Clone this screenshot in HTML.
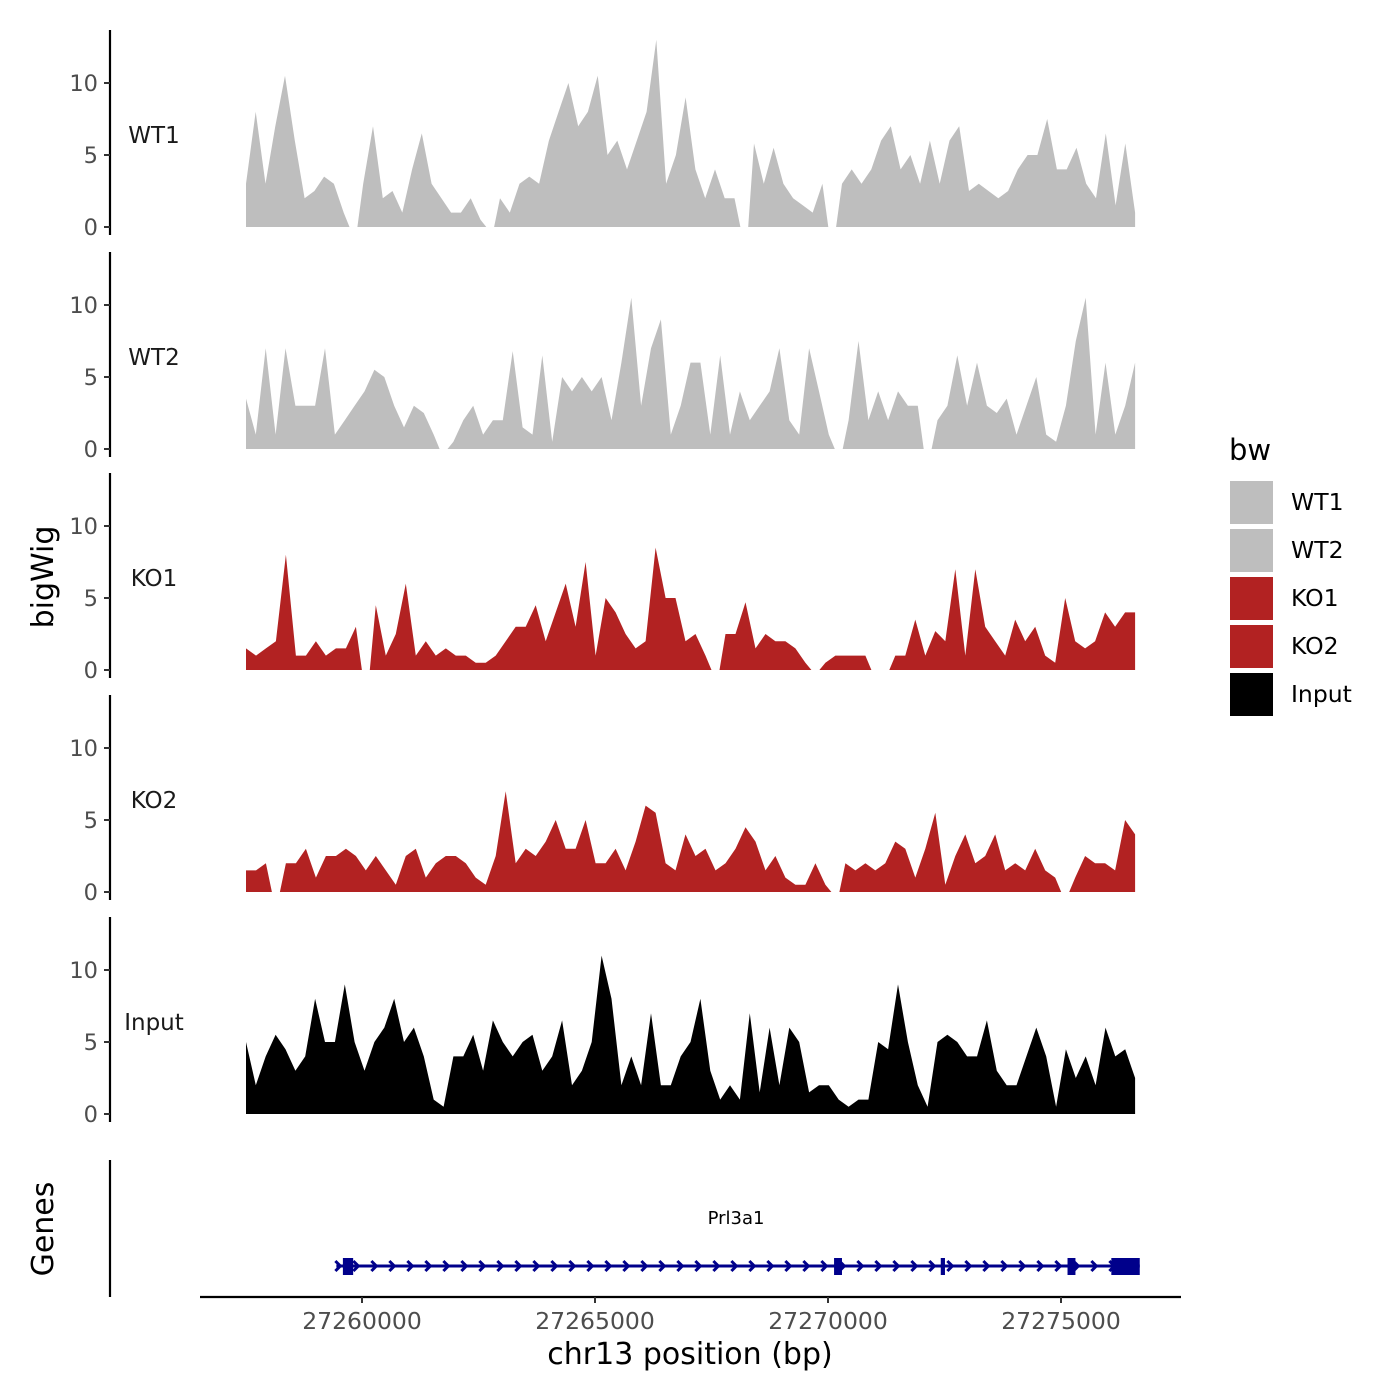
<!DOCTYPE html>
<html><head><meta charset="utf-8"><style>
html,body{margin:0;padding:0;background:#fff}
svg{display:block;font-family:"DejaVu Sans","Liberation Sans",sans-serif}
</style></head><body>
<svg id="chart" width="1400" height="1400" viewBox="0 0 1400 1400" xmlns="http://www.w3.org/2000/svg">
</svg>
<script>
const trackNames = ["WT1","WT2","KO1","KO2","Input"];
const trackColors = ["#bebebe","#bebebe","#b22222","#b22222","#000000"];
const yTicks = [0,5,10];
const xTicks = [27260000,27265000,27270000,27275000];
const startBp = 27257510, endBp = 27276590;
const wt1 = [3,8,3,7,10.5,6,2,2.5,3.5,3,1,null,3,7,2,2.5,1,4,6.5,3,2,1,1,2,0.5,null,2,1,3,3.5,3,6,8,10,7,8,10.5,5,6,4,6,8,13,3,5,9,4,2,4,2,2,null,5.8,3,5.5,3,2,1.5,1,3,null,3,4,3,4,6,7,4,5,3,6,3,6,7,2.5,3,2.5,2,2.5,4,5,5,7.5,4,4,5.5,3,2,6.5,1.5,5.8,1];
const wt2 = [3.5,1,7,1,7,3,3,3,7,1,2,3,4,5.5,5,3,1.5,3,2.5,1,null,0.5,2,3,1,2,2,6.8,1.5,1,6.5,0.5,5,4,5,4,5,2,6,10.5,3,7,9,1,3,6,6,1,6.5,1,4,2,3,4,7,2,1,7,4,1,null,2,7.5,2,4,2,4,3,3,null,2,3,6.5,3,6,3,2.5,3.5,1,3,5,1,0.5,3,7.5,10.5,1,6,1,3,6];
const ko1 = [1.5,1,1.5,2,8,1,1,2,1,1.5,1.5,3,null,4.5,1,2.5,6,1,2,1,1.5,1,1,0.5,0.5,1,2,3,3,4.5,2,4,6,3,7.5,1,5,4,2.5,1.5,2,8.5,5,5,2,2.5,1,null,2.5,2.5,4.7,1.5,2.5,2,2,1.5,0.5,null,0.5,1,1,1,1,null,null,1,1,3.5,1,2.7,2,7,1,7,3,2,1,3.5,2,3,1,0.5,5,2,1.5,2,4,3,4,4];
const ko2 = [1.5,1.5,2,null,2,2,3,1,2.5,2.5,3,2.5,1.5,2.5,1.5,0.5,2.5,3,1,2,2.5,2.5,2,1,0.5,2.5,7,2,3,2.5,3.5,5,3,3,5,2,2,3,1.5,3.5,6,5.5,2,1.5,4,2.5,3,1.5,2,3,4.5,3.5,1.5,2.5,1,0.5,0.5,2,0.5,null,2,1.5,2,1.5,2,3.5,3,1,3,5.5,0.5,2.5,4,2,2.5,4,1.5,2,1.5,3,1.5,1,null,1,2.5,2,2,1.5,5,4];
const input = [5,2,4,5.5,4.5,3,4,8,5,5,9,5,3,5,6,8,5,6,4,1,0.5,4,4,5.5,3,6.5,5,4,5,5.5,3,4,6.5,2,3,5,11,8,2,4,2,7,2,2,4,5,8,3,1,2,1,7,1.5,6,2,6,5,1.5,2,2,1,0.5,1,1,5,4.5,9,5,2,0.5,5,5.5,5,4,4,6.5,3,2,2,4,6,4,0.5,4.5,2.5,4,2,6,4,4.5,2.5];
const trackData = [wt1,wt2,ko1,ko2,input];
const exonStarts = [27259590,27270130,27272420,27275140,27276080];
const exonEnds   = [27259810,27270300,27272510,27275310,27276690];
const geneStart = 27259450, geneEnd = 27276690;

const NS="http://www.w3.org/2000/svg";
const svg=document.getElementById('chart');
function mk(tag,attrs,parent){const e=document.createElementNS(NS,tag);for(const k in attrs)e.setAttribute(k,attrs[k]);(parent||svg).appendChild(e);return e;}
function xScale(bp){return 362+(bp-27260000)*233/5000;}
const zeroYs=[227,449,670,892,1114];
const pxPerUnit=14.4;

trackData.forEach((vals,t)=>{
  const g=mk('g',{});
  
  
  const y0=zeroYs[t];
  const yS=v=>y0-v*pxPerUnit;
  const n=vals.length;
  const step=(xScale(endBp)-xScale(startBp))/(n-1);
  const xAt=i=>xScale(startBp+(endBp-startBp)*i/(n-1));
  let seg=[];
  const flush=()=>{
    if(seg.length>0){
      const xs=seg[0][0], xe=seg[seg.length-1][0];
      const first=seg[0][2]>0&&vals[seg[0][2]-1]===null, last=seg[seg.length-1][2]<n-1;
      let d='M'+(first?xs-step*0.6:xs).toFixed(1)+','+y0;
      seg.forEach(p=>{d+=' L'+p[0].toFixed(1)+','+yS(p[1]).toFixed(1);});
      d+=' L'+(last?xe+step*0.6:xe).toFixed(1)+','+y0+' Z';
      const p=mk('path',{d:d,fill:trackColors[t]},g);
      
      
    }
    seg=[];
  };
  vals.forEach((v,i)=>{if(v===null)flush();else seg.push([xAt(i),v,i]);});
  flush();
  const ax=mk('line',{x1:110,x2:110,y1:y0-197,y2:y0+8,stroke:'#000','stroke-width':2.2},g);
  
  
  yTicks.forEach(v=>{
    const y=yS(v);
    mk('line',{x1:104,x2:110,y1:y,y2:y,stroke:'#333','stroke-width':2},g);
    const tx=mk('text',{x:98,y:y+8,'text-anchor':'end','font-size':22.5,fill:'#4d4d4d'},g);
    tx.textContent=v;
    
    
  });
  const lb=mk('text',{x:154,y:y0-84,'text-anchor':'middle','font-size':23,fill:'#1a1a1a'},g);
  lb.textContent=trackNames[t];
  
  
});

const yt=mk('text',{x:0,y:0,transform:'translate(53,577) rotate(-90)','text-anchor':'middle','font-size':30,fill:'#000'});
yt.textContent='bigWig';



const gp=mk('g',{});


mk('line',{x1:110,x2:110,y1:1160,y2:1297,stroke:'#000','stroke-width':2.2},gp);
const gt=mk('text',{x:0,y:0,transform:'translate(53,1229) rotate(-90)','text-anchor':'middle','font-size':30,fill:'#000'},gp);
gt.textContent='Genes';


const gx1=xScale(geneStart), gx2=xScale(geneEnd);
mk('line',{x1:gx1,x2:gx2,y1:1266,y2:1266,stroke:'#00008b','stroke-width':3},gp);
for(let x=gx1+2;x<gx2-4;x+=18){
  mk('polyline',{points:(x-3)+',1261 '+(x+2)+',1266 '+(x-3)+',1271',fill:'none',stroke:'#00008b','stroke-width':3},gp);
}
exonStarts.forEach((s,i)=>{
  const r=mk('rect',{x:xScale(s),y:1258,width:xScale(exonEnds[i])-xScale(s),height:17,fill:'#00008b'},gp);
  
  
});
const gl=mk('text',{x:736,y:1224,'text-anchor':'middle','font-size':18,fill:'#000'},gp);
gl.textContent='Prl3a1';



const xa=mk('g',{});


mk('line',{x1:200,x2:1181,y1:1297,y2:1297,stroke:'#000','stroke-width':2.2},xa);
xTicks.forEach(v=>{
  const x=xScale(v);
  mk('line',{x1:x,x2:x,y1:1297,y2:1303,stroke:'#333','stroke-width':2},xa);
  const t=mk('text',{x:x,y:1329,'text-anchor':'middle','font-size':23.5,fill:'#4d4d4d'},xa);
  t.textContent=v;
  
  
});
const xt=mk('text',{x:690,y:1364,'text-anchor':'middle','font-size':30,fill:'#000'});
xt.textContent='chr13 position (bp)';



const lg=mk('g',{});


const lt=mk('text',{x:1229,y:460,'font-size':29,fill:'#000'},lg);
lt.textContent='bw';


trackNames.forEach((n,i)=>{
  const y=480+i*48;
  const r=mk('rect',{x:1229,y:y,width:45,height:45,fill:trackColors[i],stroke:'#fff','stroke-width':2},lg);
  
  
  const t=mk('text',{x:1291,y:y+30,'font-size':23.5,fill:'#000'},lg);
  t.textContent=n;
  
  
});
</script>
</body></html>
